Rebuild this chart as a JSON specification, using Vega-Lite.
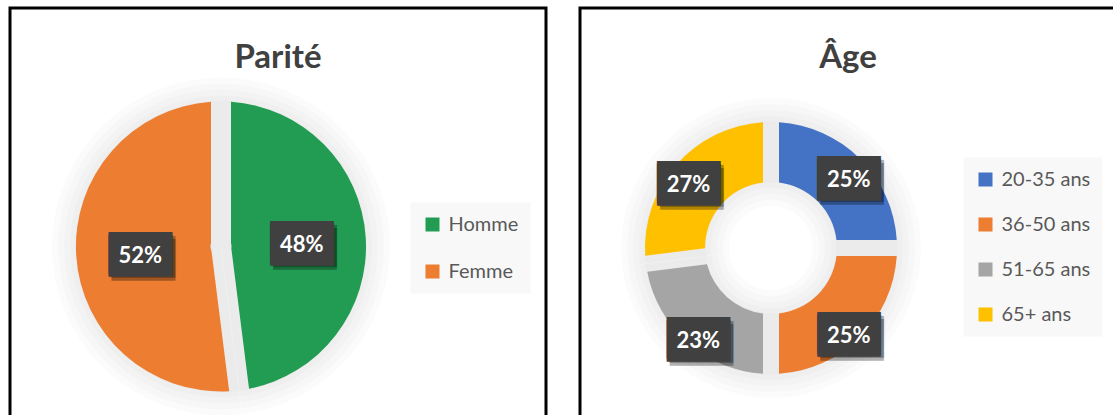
{
  "$schema": "https://vega.github.io/schema/vega-lite/v6.json",
  "padding": {"left": 8, "top": 6, "right": 0, "bottom": 0},
  "spacing": 30,
  "resolve": {"scale": {"color": "independent"}, "legend": {"color": "independent"}},
  "config": {"view": {"stroke": "#000000", "strokeWidth": 3}, "font": "Lato"},
  "hconcat": [
    {
      "width": 536,
      "height": 440,
      "title": {"text": "Parité", "fontSize": 33, "font": "Lato", "fontWeight": "bold", "color": "#404040", "offset": -93, "anchor": "middle", "baseline": "alphabetic"},
      "data": {"values": [{"sexe": "Homme", "part": 0.48}, {"sexe": "Femme", "part": 0.52}]},
      "encoding": {
        "theta": {"field": "part", "type": "quantitative", "stack": true},
        "order": {"field": "sexe", "sort": "descending"},
        "detail": {"field": "sexe"},
        "x": {"value": 211},
        "y": {"value": 238.5}
      },
      "layer": [
        {"mark": {"type": "arc", "outerRadius": 169, "fill": "#000000", "opacity": 0.015}},
        {"mark": {"type": "arc", "outerRadius": 163, "fill": "#000000", "opacity": 0.015}},
        {"mark": {"type": "arc", "outerRadius": 157, "fill": "#000000", "opacity": 0.015}},
        {"mark": {"type": "arc", "outerRadius": 151, "fill": "#000000", "opacity": 0.015}},
        {"mark": {"type": "arc", "outerRadius": 146, "fill": "#000000", "opacity": 0.015}},
        {
          "mark": {"type": "arc", "outerRadius": 145, "innerRadius": 10.5, "padAngle": 0.1377},
          "encoding": {
            "color": {
              "field": "sexe", "type": "nominal",
              "scale": {"domain": ["Homme", "Femme"], "range": ["#229C52", "#ED7D31"]},
              "legend": {"title": null, "orient": "none", "legendX": 400.5, "legendY": 194.5, "fillColor": "#f8f8f8", "padding": 12, "rowPadding": 27, "symbolType": "square", "symbolSize": 196, "symbolStrokeWidth": 0, "labelFont": "Lato", "labelFontSize": 20, "labelColor": "#595959", "labelOffset": 6}
            }
          }
        },
        {"mark": {"type": "text", "radius": 81, "font": "DejaVu Sans Mono", "fontSize": 35, "fill": "#000000", "opacity": 0.3, "dx": 3, "dy": 6, "align": "center", "baseline": "middle"}, "encoding": {"text": {"value": "███"}}},
        {"mark": {"type": "text", "radius": 81, "font": "DejaVu Sans Mono", "fontSize": 35, "fill": "#000000", "opacity": 0.3, "dx": 3, "dy": 9, "align": "center", "baseline": "middle"}, "encoding": {"text": {"value": "███"}}},
        {"mark": {"type": "text", "radius": 81, "font": "DejaVu Sans Mono", "fontSize": 35, "fill": "#404040", "dy": 2, "align": "center", "baseline": "middle"}, "encoding": {"text": {"value": "███"}}},
        {"mark": {"type": "text", "radius": 81, "font": "DejaVu Sans Mono", "fontSize": 35, "fill": "#404040", "dy": 5, "align": "center", "baseline": "middle"}, "encoding": {"text": {"value": "███"}}},
        {"mark": {"type": "text", "radius": 81, "font": "Lato", "fontSize": 22, "fontWeight": "bold", "fill": "#ffffff", "dy": 4, "align": "center", "baseline": "middle"}, "encoding": {"text": {"field": "part", "type": "quantitative", "format": ".0%"}}}
      ]
    },
    {
      "width": 536,
      "height": 440,
      "title": {"text": "Âge", "fontSize": 33, "font": "Lato", "fontWeight": "bold", "color": "#404040", "offset": -93, "anchor": "middle", "baseline": "alphabetic"},
      "data": {"values": [{"age": "20-35 ans", "part": 0.25}, {"age": "36-50 ans", "part": 0.25}, {"age": "51-65 ans", "part": 0.23}, {"age": "65+ ans", "part": 0.27}]},
      "encoding": {
        "theta": {"field": "part", "type": "quantitative", "stack": true},
        "order": {"field": "age", "sort": "ascending"},
        "detail": {"field": "age"},
        "x": {"value": 191},
        "y": {"value": 240}
      },
      "layer": [
        {"mark": {"type": "arc", "outerRadius": 150, "innerRadius": 42, "fill": "#000000", "opacity": 0.015}},
        {"mark": {"type": "arc", "outerRadius": 144, "innerRadius": 48, "fill": "#000000", "opacity": 0.015}},
        {"mark": {"type": "arc", "outerRadius": 138, "innerRadius": 54, "fill": "#000000", "opacity": 0.015}},
        {"mark": {"type": "arc", "outerRadius": 132, "innerRadius": 60, "fill": "#000000", "opacity": 0.015}},
        {"mark": {"type": "arc", "outerRadius": 127, "innerRadius": 65, "fill": "#000000", "opacity": 0.015}},
        {
          "mark": {"type": "arc", "outerRadius": 126, "innerRadius": 66, "padAngle": 0.1126},
          "encoding": {
            "color": {
              "field": "age", "type": "nominal",
              "scale": {"domain": ["20-35 ans", "36-50 ans", "51-65 ans", "65+ ans"], "range": ["#4472C4", "#ED7D31", "#A5A5A5", "#FFC000"]},
              "legend": {"title": null, "orient": "none", "legendX": 383.5, "legendY": 149.5, "fillColor": "#f8f8f8", "padding": 12, "rowPadding": 25, "symbolType": "square", "symbolSize": 196, "symbolStrokeWidth": 0, "labelFont": "Lato", "labelFontSize": 20, "labelColor": "#595959", "labelOffset": 6}
            }
          }
        },
        {"mark": {"type": "text", "radius": 110, "font": "DejaVu Sans Mono", "fontSize": 35, "fill": "#000000", "opacity": 0.3, "dx": 3, "dy": 12, "align": "center", "baseline": "middle"}, "encoding": {"text": {"value": "███"}}},
        {"mark": {"type": "text", "radius": 110, "font": "DejaVu Sans Mono", "fontSize": 35, "fill": "#000000", "opacity": 0.3, "dx": 3, "dy": 15, "align": "center", "baseline": "middle"}, "encoding": {"text": {"value": "███"}}},
        {"mark": {"type": "text", "radius": 110, "font": "DejaVu Sans Mono", "fontSize": 35, "fill": "#404040", "dy": 8, "align": "center", "baseline": "middle"}, "encoding": {"text": {"value": "███"}}},
        {"mark": {"type": "text", "radius": 110, "font": "DejaVu Sans Mono", "fontSize": 35, "fill": "#404040", "dy": 11, "align": "center", "baseline": "middle"}, "encoding": {"text": {"value": "███"}}},
        {"mark": {"type": "text", "radius": 110, "font": "Lato", "fontSize": 22, "fontWeight": "bold", "fill": "#ffffff", "dy": 10, "align": "center", "baseline": "middle"}, "encoding": {"text": {"field": "part", "type": "quantitative", "format": ".0%"}}}
      ]
    }
  ]
}
